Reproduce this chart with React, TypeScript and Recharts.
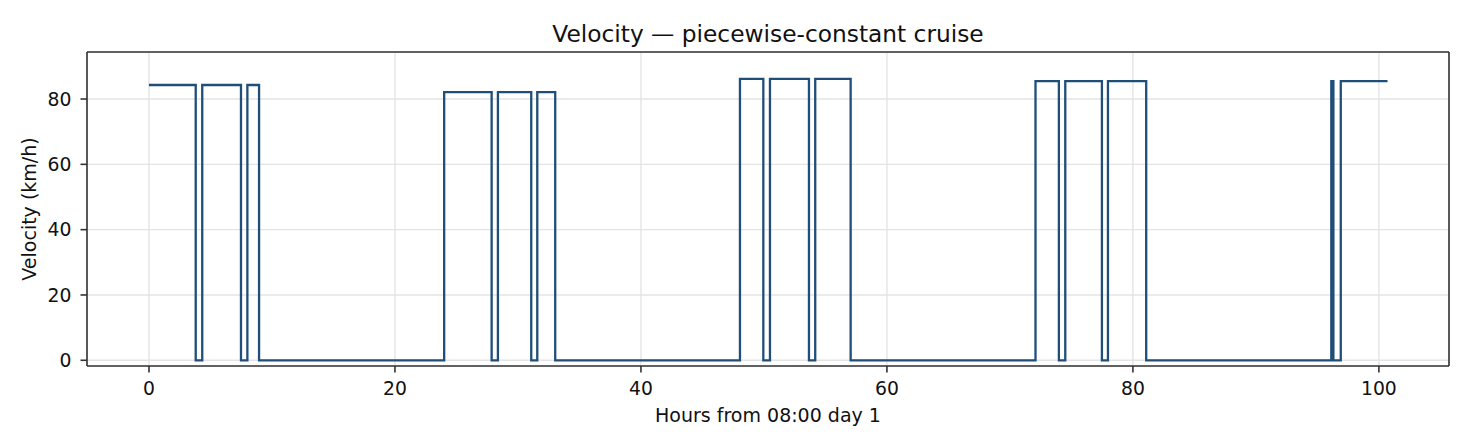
import React from "react";
import { LineChart, Line, XAxis, YAxis, CartesianGrid } from "recharts";

const hours = [0, 3.8, 4.33, 7.48, 8.0, 8.95, 24.0, 27.86, 28.37, 31.08, 31.57, 33.03, 48.05, 49.95, 50.49, 53.66, 54.17, 57.05, 72.08, 73.98, 74.5, 77.48, 77.97, 81.08, 96.13, 96.3, 96.9, 100.7];
const velocity = [84.3, 0, 84.3, 0, 84.3, 0, 82.1, 0, 82.1, 0, 82.1, 0, 86.2, 0, 86.2, 0, 86.2, 0, 85.5, 0, 85.5, 0, 85.5, 0, 85.5, 0, 85.5, 85.5];
const xTicks = [0, 20, 40, 60, 80, 100];
const yTicks = [0, 20, 40, 60, 80];
const xDomain: [number, number] = [-5.04, 105.7];
const yDomain: [number, number] = [-1.75, 94.4];

const data = hours.map((h, i) => ({ h, v: velocity[i] }));

const FONT = "'DejaVu Sans', sans-serif";
const W = 1470;
const H = 448;
const AX = "#333333";

export default function App() {
  const tickStyle = { fontSize: 18.8, fill: "#111", fontFamily: FONT };
  return (
    <div style={{ position: "absolute", left: 0, top: 0, width: W, height: H, background: "#fff" }}>
      <LineChart
        width={W}
        height={H}
        data={data}
        margin={{ top: 51, right: 20, left: 0, bottom: 0 }}
      >
        <CartesianGrid stroke="#e4e4e4" strokeWidth={1.4} />
        <XAxis
          dataKey="h"
          type="number"
          domain={xDomain}
          ticks={xTicks}
          allowDataOverflow
          height={82}
          tick={tickStyle}
          tickSize={6.5}
          tickMargin={9.5}
          axisLine={{ stroke: AX, strokeWidth: 1.6 }}
          tickLine={{ stroke: AX, strokeWidth: 1.6 }}
          interval={0}
        />
        <XAxis
          xAxisId="top"
          orientation="top"
          dataKey="h"
          type="number"
          domain={xDomain}
          allowDataOverflow
          height={1}
          tick={false}
          tickLine={false}
          axisLine={{ stroke: AX, strokeWidth: 1.6 }}
        />
        <YAxis
          type="number"
          domain={yDomain}
          ticks={yTicks}
          allowDataOverflow
          width={87}
          tick={tickStyle}
          tickSize={6.5}
          tickMargin={9}
          axisLine={{ stroke: AX, strokeWidth: 1.6 }}
          tickLine={{ stroke: AX, strokeWidth: 1.6 }}
          interval={0}
        />
        <YAxis
          yAxisId="right"
          orientation="right"
          type="number"
          domain={yDomain}
          allowDataOverflow
          width={1}
          tick={false}
          tickLine={false}
          axisLine={{ stroke: AX, strokeWidth: 1.6 }}
        />
        <Line
          type="stepAfter"
          dataKey="v"
          stroke="#1f4e79"
          strokeWidth={2.3}
          dot={false}
          activeDot={false}
          isAnimationActive={false}
        />
      </LineChart>
      <svg
        width={W}
        height={H}
        style={{ position: "absolute", left: 0, top: 0, pointerEvents: "none" }}
      >
        <text x={768} y={41.7} textAnchor="middle" fontFamily={FONT} fontSize={23.3} fill="#111">
          Velocity — piecewise-constant cruise
        </text>
        <text x={768} y={421.5} textAnchor="middle" fontFamily={FONT} fontSize={19} fill="#111">
          Hours from 08:00 day 1
        </text>
        <text
          x={0}
          y={0}
          transform="translate(35.5 209) rotate(-90)"
          textAnchor="middle"
          fontFamily={FONT}
          fontSize={19}
          fill="#111"
        >
          Velocity (km/h)
        </text>
      </svg>
    </div>
  );
}
